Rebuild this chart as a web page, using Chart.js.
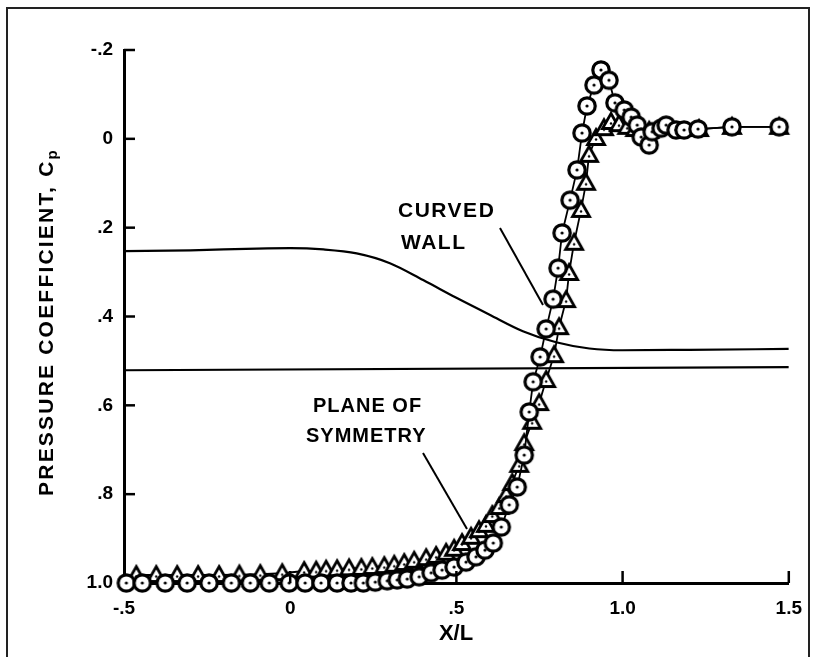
<!DOCTYPE html>
<html>
<head>
<meta charset="utf-8">
<script src="https://cdn.jsdelivr.net/npm/chart.js@4.4.1/dist/chart.umd.min.js"></script>
<style>
  html, body { margin: 0; padding: 0; background: #ffffff; }
  #wrap { width: 816px; height: 657px; position: relative; }
</style>
</head>
<body>
<div id="wrap"><canvas id="c" width="816" height="657"></canvas></div>
<script>
// ---------------- DATA ----------------
const xTickValues = [-0.5, 0, 0.5, 1.0, 1.5];
const xTickLabels = ['-.5', '0', '.5', '1.0', '1.5'];
const yTickValues = [-0.2, 0, 0.2, 0.4, 0.6, 0.8, 1.0];
const yTickLabels = ['-.2', '0', '.2', '.4', '.6', '.8', '1.0'];

// circle symbols
const circleX = [-0.493, -0.445, -0.376, -0.31, -0.244, -0.177, -0.12, -0.063, -0.003, 0.045,
  0.093, 0.141, 0.183, 0.22, 0.256, 0.292, 0.322, 0.352, 0.388, 0.424,
  0.457, 0.493, 0.529, 0.559, 0.586, 0.611, 0.635, 0.659, 0.683, 0.704,
  0.719, 0.731, 0.752, 0.77, 0.791, 0.806, 0.818, 0.842, 0.863, 0.878,
  0.893, 0.914, 0.935, 0.959, 0.977, 1.005, 1.026, 1.044, 1.056, 1.08,
  1.089, 1.116, 1.131, 1.161, 1.185, 1.227, 1.329, 1.471];
const circleCp = [1.0, 1.0, 1.0, 1.0, 1.0, 1.0, 1.0, 1.0, 1.0, 1.0,
  1.0, 1.0, 1.0, 1.0, 0.998, 0.995, 0.993, 0.991, 0.986, 0.977,
  0.971, 0.964, 0.953, 0.941, 0.926, 0.91, 0.874, 0.824, 0.784, 0.712,
  0.615, 0.547, 0.491, 0.428, 0.361, 0.291, 0.212, 0.138, 0.07, -0.013,
  -0.074, -0.121, -0.155, -0.132, -0.081, -0.065, -0.049, -0.031, -0.004, 0.014,
  -0.016, -0.024, -0.031, -0.02, -0.02, -0.022, -0.027, -0.027];

// triangle symbols
const triX = [-0.463, -0.403, -0.34, -0.277, -0.214, -0.153, -0.09, -0.024, 0.042, 0.078,
  0.108, 0.141, 0.177, 0.214, 0.247, 0.283, 0.313, 0.343, 0.373, 0.409,
  0.439, 0.469, 0.493, 0.517, 0.544, 0.568, 0.589, 0.608, 0.629, 0.65,
  0.668, 0.689, 0.704, 0.728, 0.749, 0.77, 0.794, 0.809, 0.83, 0.839,
  0.854, 0.875, 0.89, 0.899, 0.92, 0.944, 0.965, 0.989, 1.014, 1.038,
  1.08, 1.23, 1.329, 1.471];
const triCp = [0.982, 0.982, 0.982, 0.982, 0.982, 0.981, 0.98, 0.978, 0.973, 0.972,
  0.97, 0.969, 0.967, 0.966, 0.964, 0.962, 0.959, 0.955, 0.95, 0.944,
  0.939, 0.932, 0.923, 0.91, 0.896, 0.881, 0.869, 0.847, 0.829, 0.802,
  0.775, 0.734, 0.685, 0.637, 0.595, 0.543, 0.487, 0.424, 0.363, 0.302,
  0.234, 0.16, 0.099, 0.036, -0.002, -0.024, -0.038, -0.033, -0.027, -0.022,
  -0.018, -0.022, -0.027, -0.027];

// solid curves
const wallX  = [-0.5, -0.3, -0.1, 0.0, 0.1, 0.2, 0.3, 0.4, 0.5, 0.6, 0.7, 0.8, 0.9, 1.0, 1.2, 1.5];
const wallCp = [0.253, 0.251, 0.247, 0.246, 0.249, 0.258, 0.28, 0.318, 0.358, 0.396, 0.433, 0.458, 0.472, 0.476, 0.475, 0.473];
const planeX  = [-0.5, 1.5];
const planeCp = [0.521, 0.514];

// ---------------- MARKERS ----------------
function makeCircle() {
  const c = document.createElement('canvas');
  c.width = 24; c.height = 24;
  const g = c.getContext('2d');
  g.beginPath(); g.arc(12, 12, 8.2, 0, Math.PI * 2);
  g.fillStyle = '#fff'; g.fill();
  g.lineWidth = 3.2; g.strokeStyle = '#000'; g.stroke();
  g.beginPath(); g.arc(12, 12, 1.6, 0, Math.PI * 2);
  g.fillStyle = '#000'; g.fill();
  return c;
}
function makeTriangle() {
  const c = document.createElement('canvas');
  c.width = 24; c.height = 24;
  const g = c.getContext('2d');
  g.beginPath(); g.moveTo(12, 3.5); g.lineTo(20.5, 18.5); g.lineTo(3.5, 18.5); g.closePath();
  g.fillStyle = '#fff'; g.fill();
  g.lineWidth = 2.8; g.lineJoin = 'miter'; g.strokeStyle = '#000'; g.stroke();
  g.beginPath(); g.arc(12, 13.5, 1.2, 0, Math.PI * 2);
  g.fillStyle = '#000'; g.fill();
  return c;
}
const circleImg = makeCircle();
const triImg = makeTriangle();

const pts = (xs, ys) => xs.map((x, i) => ({ x: x, y: ys[i] }));

// ---------------- PLUGIN: frame, inward ticks, titles, notes ----------------
const FONT = '"Liberation Sans", Arial, Helvetica, sans-serif';
const decor = {
  id: 'decor',
  afterDraw(chart) {
    const ctx = chart.ctx;
    const xs = chart.scales.x, ys = chart.scales.y;
    const a = chart.chartArea;
    ctx.save();
    // frame
    ctx.strokeStyle = '#222'; ctx.lineWidth = 2;
    ctx.strokeRect(7, 8, 802, 700);
    // inward ticks
    ctx.strokeStyle = '#000'; ctx.lineWidth = 2.5;
    yTickValues.forEach(v => {
      if (v === 1.0) return;
      const py = ys.getPixelForValue(v);
      ctx.beginPath(); ctx.moveTo(a.left, py); ctx.lineTo(a.left + 11, py); ctx.stroke();
    });
    xTickValues.forEach(v => {
      if (v === -0.5) return;
      const px = xs.getPixelForValue(v);
      ctx.beginPath(); ctx.moveTo(px, a.bottom); ctx.lineTo(px, a.bottom - 12); ctx.stroke();
    });
    ctx.fillStyle = '#000';
    // x title
    ctx.font = 'bold 22px ' + FONT;
    ctx.textAlign = 'center'; ctx.textBaseline = 'middle';
    ctx.fillText('X/L', 456, 634);
    // y title (rotated) with subscript
    ctx.save();
    ctx.translate(46, 322);
    ctx.rotate(-Math.PI / 2);
    ctx.letterSpacing = '2.2px';
    ctx.font = 'bold 21px ' + FONT;
    const main = 'PRESSURE COEFFICIENT, C';
    const w1 = ctx.measureText(main).width;
    ctx.font = 'bold 15px ' + FONT;
    const w2 = ctx.measureText('p').width;
    const start = -(w1 + w2) / 2;
    ctx.textAlign = 'left'; ctx.textBaseline = 'alphabetic';
    ctx.font = 'bold 21px ' + FONT;
    ctx.fillText(main, start, 7);
    ctx.font = 'bold 15px ' + FONT;
    ctx.fillText('p', start + w1, 11);
    ctx.restore();
    // annotations
    ctx.textAlign = 'left'; ctx.textBaseline = 'alphabetic';
    ctx.letterSpacing = '1.5px';
    ctx.font = 'bold 21px ' + FONT;
    ctx.fillText('CURVED', 398, 217);
    ctx.fillText('WALL', 401, 249);
    ctx.letterSpacing = '1px';
    ctx.font = 'bold 20px ' + FONT;
    ctx.fillText('PLANE OF', 313, 412);
    ctx.fillText('SYMMETRY', 306, 442);
    ctx.letterSpacing = '0px';
    ctx.lineWidth = 2;
    ctx.beginPath(); ctx.moveTo(500, 228); ctx.lineTo(543, 305); ctx.stroke();
    ctx.beginPath(); ctx.moveTo(423, 453); ctx.lineTo(467, 529); ctx.stroke();
    ctx.restore();
  }
};

// ---------------- CHART ----------------
new Chart(document.getElementById('c'), {
  type: 'scatter',
  data: {
    datasets: [
      { label: 'circles', data: pts(circleX, circleCp), showLine: true,
        borderColor: '#000', borderWidth: 1.8, pointStyle: circleImg,
        pointRadius: 10, clip: false, order: 1 },
      { label: 'triangles', data: pts(triX, triCp), showLine: true,
        borderColor: '#000', borderWidth: 1.8, pointStyle: triImg,
        pointRadius: 10, clip: false, order: 2 },
      { label: 'curved wall', data: pts(wallX, wallCp), showLine: true,
        borderColor: '#000', borderWidth: 2.2, pointRadius: 0,
        tension: 0.4, cubicInterpolationMode: 'monotone', order: 3 },
      { label: 'plane of symmetry', data: pts(planeX, planeCp), showLine: true,
        borderColor: '#000', borderWidth: 2.2, pointRadius: 0, order: 4 }
    ]
  },
  options: {
    responsive: false,
    animation: false,
    events: [],
    layout: { padding: { left: 0, right: 26, top: 50, bottom: 0 } },
    plugins: { legend: { display: false }, tooltip: { enabled: false } },
    scales: {
      x: {
        type: 'linear', min: -0.5, max: 1.5,
        afterBuildTicks: s => { s.ticks = xTickValues.map(v => ({ value: v })); },
        afterFit: s => { s.height = 74; },
        grid: { display: false, drawTicks: false },
        border: { display: true, color: '#000', width: 3 },
        ticks: { autoSkip: false, maxRotation: 0, padding: 14, color: '#000',
          font: { family: FONT, weight: 'bold', size: 19 },
          callback: (v, i) => xTickLabels[i] }
      },
      y: {
        type: 'linear', min: -0.2, max: 1.0, reverse: true,
        afterBuildTicks: s => { s.ticks = yTickValues.map(v => ({ value: v })); },
        afterFit: s => { s.width = 124; },
        grid: { display: false, drawTicks: false },
        border: { display: true, color: '#000', width: 3 },
        ticks: { autoSkip: false, padding: 11, color: '#000',
          font: { family: FONT, weight: 'bold', size: 19 },
          callback: (v, i) => yTickLabels[i] }
      }
    }
  },
  plugins: [decor]
});
</script>
</body>
</html>
